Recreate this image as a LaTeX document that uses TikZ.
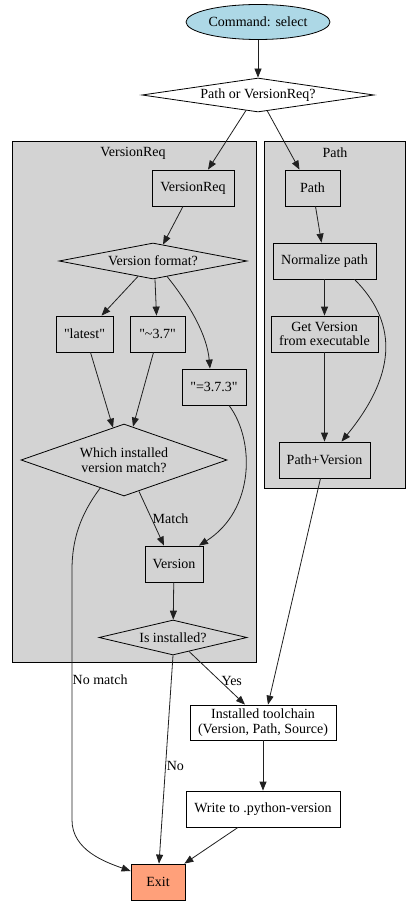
\documentclass[tikz,border=0pt]{standalone}
\usepackage{fontspec}
\setmainfont{Liberation Serif}
\newfontfamily\rawserif{Liberation Serif}
\usetikzlibrary{shapes.geometric,arrows.meta,calc}
\definecolor{lblue}{HTML}{ADD8E6}
\definecolor{lgray}{HTML}{D3D3D3}
\definecolor{lsalmon}{HTML}{FFA07A}
\definecolor{edgecol}{HTML}{202020}
\newcommand{\sq}{\symbol{34}}
\begin{document}
\begin{tikzpicture}[x=1pt,y=-1pt,
  font=\rawserif\fontsize{14}{14.5}\selectfont,
  box/.style={draw, rectangle, inner sep=0pt, line width=0.8pt, align=center},
  dia/.style={draw, diamond, inner sep=0pt, line width=0.8pt, align=center},
  cluster/.style={draw, rectangle, fill=lgray, line width=0.8pt, inner sep=0pt},
  lbl/.style={inner sep=1pt, anchor=west},
  edge/.style={draw=edgecol, line width=0.8pt, -{Triangle[length=9pt,width=7pt]}}
]
\fill[white] (0,0) rectangle (418,904);
\useasboundingbox (0,0) rectangle (418,904);

% clusters
\node[cluster, minimum width=244, minimum height=521] (cvr) at (134,401.5) {};
\node[inner sep=0pt] (cvrl) at (133,153) {VersionReq};
\node[cluster, minimum width=141, minimum height=347] (cpa) at (334.5,314.5) {};
\node[inner sep=0pt] (cpal) at (335,153) {Path};

% nodes
\node[draw, ellipse, fill=lblue, line width=0.8pt, inner sep=0pt, minimum width=144, minimum height=35] (cmd) at (258,22) {Command: select};
\node[dia, shape aspect=6.8, minimum width=232, minimum height=34] (pv) at (258,95) {Path or VersionReq?};

\node[box, minimum width=82, minimum height=36] (vr) at (193,188) {VersionReq};
\node[dia, shape aspect=5.2, minimum width=188, minimum height=36] (vf) at (153,261) {Version format?};
\node[box, minimum width=57, minimum height=36] (latest) at (84.5,334) {\sq latest\sq};
\node[box, minimum width=55, minimum height=36] (tilde) at (157.5,334) {\sq\symbol{"7E}3.7\sq};
\node[box, minimum width=64, minimum height=36] (eq) at (214,387) {\sq=3.7.3\sq};
\node[dia, shape aspect=2.86, minimum width=206, minimum height=72] (which) at (124,460) {Which installed\\version match?};
\node[box, minimum width=58, minimum height=36] (ver) at (174,564) {Version};
\node[dia, shape aspect=4.2, minimum width=148, minimum height=35] (inst) at (173,637.5) {Is installed?};

\node[box, minimum width=55, minimum height=36] (pathn) at (312.5,188) {Path};
\node[box, minimum width=103, minimum height=36] (norm) at (324.5,261) {Normalize path};
\node[box, minimum width=107, minimum height=36] (getv) at (324.5,334) {Get Version\\from executable};
\node[box, minimum width=91, minimum height=36] (pv2) at (324.5,460) {Path+Version};

\node[box, minimum width=146, minimum height=35] (tc) at (263,722.5) {Installed toolchain\\(Version, Path, Source)};
\node[box, minimum width=154, minimum height=36] (wr) at (263,809) {Write to .python-version};
\node[box, fill=lsalmon, minimum width=54, minimum height=36] (exit) at (158,882) {Exit};

% edges
\draw[edge] (cmd) -- (pv);
\draw[edge] ($(pv.south)+(-12,-2)$) -- ($(vr.north)+(15,0)$);
\draw[edge] ($(pv.south)+(9,-2)$) -- ($(pathn.north)+(-13,0)$);
\draw[edge] ($(vr.south)+(-10,0)$) -- ($(vf.north)+(10,2)$);
\draw[edge] ($(vf.south)+(-15,-3)$) -- ($(latest.north)+(17,0)$);
\draw[edge] ($(vf.south)+(2,0)$) -- ($(tilde.north)+(-1,0)$);
\draw[edge] ($(vf.south)+(14,-3)$) .. controls (190,305) and (207,335) .. ($(eq.north)+(-4,0)$);
\draw[edge] ($(latest.south)+(6,0)$) -- ($(which.north)+(-11,4)$);
\draw[edge] ($(tilde.south)+(-4,0)$) -- ($(which.north)+(9,3)$);
\draw[edge] ($(eq.south)+(15,0)$) .. controls (255,440) and (255,510) .. ($(ver.north)+(25,0)$);
\draw[edge] ($(which.south)+(15,-5)$) -- coordinate[pos=0.5] (mm) ($(ver.north)+(-10,0)$);
\node[lbl] (matchl) at (mm) {Match};
\draw[edge] ($(which.south)!0.23!(which.west)$) .. controls (80,515) and (72,540) .. (72,570) -- coordinate[pos=0.44] (nm) (72,820) .. controls (72,850) and (105,862) .. ($(exit.west)+(0,-11)$);
\node[lbl, inner sep=0.5pt] (nomatchl) at (nm) {No match};
\draw[edge] (ver) -- (inst);
\draw[edge] ($(inst.south)+(16,-4)$) -- coordinate[pos=0.56] (ym) ($(tc.north)+(-18,0)$);
\node[lbl] (yesl) at (ym) {Yes};
\draw[edge] (inst.south) -- coordinate[pos=0.53] (nom) ($(exit.north)+(1,0)$);
\node[lbl] (nol) at (nom) {No};
\draw[edge] ($(pathn.south)+(3,0)$) -- ($(norm.north)+(-3,0)$);
\draw[edge] (norm) -- (getv);
\draw[edge] ($(norm.south)+(30,0)$) .. controls (395,320) and (400,370) .. ($(pv2.north)+(17,0)$);
\draw[edge] (getv) -- (pv2);
\draw[edge] ($(pv2.south)+(-4,0)$) -- ($(tc.north)+(5,0)$);
\draw[edge] (tc) -- (wr);
\draw[edge] ($(wr.south)+(-25,0)$) -- ($(exit.north east)+(-1,0)$);
\end{tikzpicture}
\end{document}
